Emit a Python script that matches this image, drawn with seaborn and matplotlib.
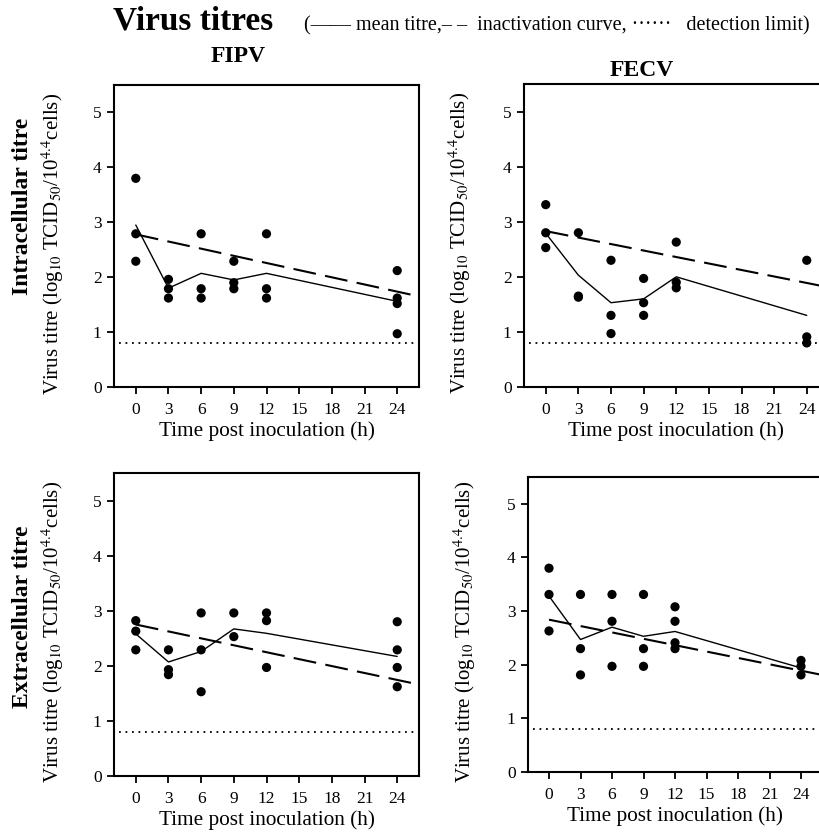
import matplotlib
matplotlib.use("Agg")
import matplotlib.pyplot as plt
import seaborn as sns
import pandas as pd

# ---------------- data ----------------
times = [0, 3, 6, 9, 12, 24]
xticks = [0, 3, 6, 9, 12, 15, 18, 21, 24]
yticks = [0, 1, 2, 3, 4, 5]
detection_limit = 0.8
inact_t = [0, 26]

fipv_intra_t = [0, 0, 0, 3, 3, 3, 6, 6, 6, 9, 9, 9, 12, 12, 12, 24, 24, 24, 24]
fipv_intra_v = [3.80, 2.79, 2.29, 1.96, 1.79, 1.62, 2.79, 1.79, 1.62,
                2.29, 1.90, 1.79, 2.79, 1.79, 1.62, 2.12, 1.62, 1.52, 0.97]
fipv_intra_mean = [2.95, 1.80, 2.07, 1.95, 2.07, 1.56]
fipv_intra_inact = [2.78, 1.65]

fecv_intra_t = [0, 0, 0, 3, 3, 3, 6, 6, 6, 9, 9, 9, 12, 12, 12, 24, 24, 24]
fecv_intra_v = [3.31, 2.80, 2.53, 2.80, 1.65, 1.63, 2.30, 1.30, 0.97,
                1.97, 1.53, 1.30, 2.63, 1.90, 1.80, 2.30, 0.91, 0.80]
fecv_intra_mean = [2.79, 2.03, 1.53, 1.60, 2.00, 1.30]
fecv_intra_inact = [2.83, 1.81]

fipv_extra_t = [0, 0, 0, 3, 3, 3, 6, 6, 6, 9, 9, 12, 12, 12, 24, 24, 24, 24]
fipv_extra_v = [2.82, 2.63, 2.29, 2.29, 1.93, 1.84, 2.96, 2.29, 1.53,
                2.96, 2.53, 2.96, 2.82, 1.97, 2.80, 2.29, 1.97, 1.62]
fipv_extra_mean = [2.58, 2.07, 2.26, 2.67, 2.59, 2.17]
fipv_extra_inact = [2.75, 1.66]

fecv_extra_t = [0, 0, 0, 3, 3, 3, 6, 6, 6, 9, 9, 9, 12, 12, 12, 12, 24, 24, 24]
fecv_extra_v = [3.80, 3.31, 2.63, 3.31, 2.30, 1.81, 3.31, 2.81, 1.97,
                3.31, 2.30, 1.97, 3.08, 2.81, 2.41, 2.30, 2.08, 1.97, 1.81]
fecv_extra_mean = [3.28, 2.47, 2.70, 2.53, 2.62, 1.94]
fecv_extra_inact = [2.84, 1.81]

# ---------------- style ----------------
sns.set_style("ticks")
plt.rcParams["font.family"] = ["Liberation Serif", "DejaVu Serif"]
plt.rcParams["mathtext.fontset"] = "stix"
for k in ["text.color", "axes.labelcolor", "xtick.color", "ytick.color", "axes.edgecolor"]:
    plt.rcParams[k] = "black"

W, H = 819, 835
fig = plt.figure(figsize=(W / 100, H / 100), dpi=100)

panels = [
    ((114, 85, 419, 387), fipv_intra_t, fipv_intra_v, fipv_intra_mean, fipv_intra_inact),
    ((524, 84, 828.5, 387), fecv_intra_t, fecv_intra_v, fecv_intra_mean, fecv_intra_inact),
    ((114, 473, 419, 776), fipv_extra_t, fipv_extra_v, fipv_extra_mean, fipv_extra_inact),
    ((528, 477, 822, 772), fecv_extra_t, fecv_extra_v, fecv_extra_mean, fecv_extra_inact),
]
ylabel_x = [-0.157, -0.167, -0.157, -0.17]

ylab = r"Virus titre (log$_{10}$ TCID$_{50}$/10$^{4.4}$cells)"

for i, (rect, pt, pv, pm, pin) in enumerate(panels):
    l, t, r, b = rect
    ax = fig.add_axes([l / W, (H - b) / H, (r - l) / W, (b - t) / H])
    pts = pd.DataFrame({"t": pt, "v": pv})
    mean_df = pd.DataFrame({"t": times, "v": pm})
    inact_df = pd.DataFrame({"t": inact_t, "v": pin})
    ax.hlines(detection_limit, -1.5, 26, colors="black", linestyles=(0, (1, 2.6)), linewidth=1.3)
    sns.lineplot(data=inact_df, x="t", y="v", ax=ax, color="black", linewidth=1.5,
                 estimator=None)
    ax.lines[-1].set_dashes([11, 4.5])
    sns.lineplot(data=mean_df, x="t", y="v", ax=ax, color="black", linewidth=1.0,
                 estimator=None)
    sns.scatterplot(data=pts, x="t", y="v", ax=ax, color="black", s=44,
                    edgecolor="none", zorder=5)
    ax.set_xlim(-2, 26)
    ax.set_ylim(0, 5.5)
    ax.set_xticks(xticks)
    ax.set_yticks(yticks)
    ax.tick_params(labelsize=12.5, length=5, width=1.3, direction="out", colors="black")
    ax.tick_params(axis="x", pad=6)
    ax.tick_params(axis="y", pad=4)
    for s in ax.spines.values():
        s.set_linewidth(1.5)
        s.set_color("black")
    ax.set_ylabel(ylab, fontsize=15)
    ax.yaxis.set_label_coords(ylabel_x[i], 0.475)
    ax.set_xlabel("Time post inoculation (h)", fontsize=15.3, labelpad=2)

fig.text(113 / W, 1 - 30 / H, "Virus titres", fontsize=24, fontweight="bold", va="baseline")
fig.text(304 / W, 1 - 30 / H,
         "(\u2014\u2014 mean titre,\u2013 \u2013  inactivation curve, \u00b7\u00b7\u00b7\u00b7\u00b7\u00b7   detection limit)",
         fontsize=14.5, va="baseline")
fig.text(238 / W, 1 - 57 / H, "FIPV", fontsize=17, fontweight="bold", ha="center", va="center")
fig.text(642 / W, 1 - 70 / H, "FECV", fontsize=17, fontweight="bold", ha="center", va="center")
fig.text(23 / W, 1 - 206 / H, "Intracellular titre", fontsize=17, fontweight="bold",
         rotation=90, ha="center", va="center")
fig.text(23 / W, 1 - 617 / H, "Extracellular titre", fontsize=17, fontweight="bold",
         rotation=90, ha="center", va="center")

fig.savefig("out.png", dpi=100)
